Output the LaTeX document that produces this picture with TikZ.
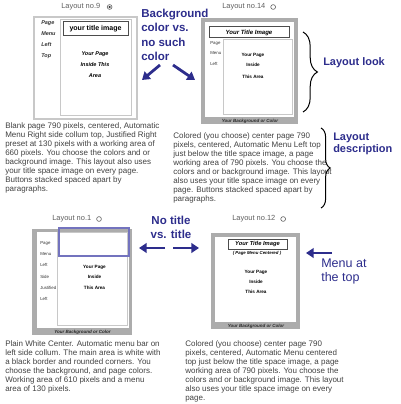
\documentclass[tikz,border=0pt]{standalone}
\usepackage{fontspec}
\setmainfont{Liberation Sans}
\usetikzlibrary{arrows.meta,positioning,decorations.pathreplacing}
\definecolor{navyblue}{RGB}{45,45,140}
\definecolor{markblue}{RGB}{115,115,190}
\definecolor{framegray}{RGB}{172,172,172}
\definecolor{linegray}{RGB}{200,200,200}
\definecolor{textgray}{RGB}{65,65,65}
\definecolor{labelgray}{RGB}{95,95,95}
\begin{document}
\begin{tikzpicture}[x=0.25mm, y=-0.25mm, % 1个单位 = 1像素, y轴向下
    every node/.style={inner sep=0pt}, % 所有节点不留边距
    desc/.style={anchor=north west, align=left, text=textgray, font=\fontsize{5.7}{6.4}\selectfont},
    layoutlabel/.style={anchor=west, text=labelgray, font=\fontsize{5.3}{6}\selectfont},
    radio/.style={circle, draw=labelgray, line width=0.15mm, minimum size=1.2mm},
    note/.style={text=navyblue, font=\fontsize{8.2}{10.2}\selectfont\bfseries},
    menuitem/.style={anchor=west, text=black!80, font=\fontsize{3.1}{3.5}\selectfont},
    pagetext/.style={font=\fontsize{3.3}{4}\selectfont\bfseries},
    bgtext/.style={text=black!85, font=\fontsize{3.2}{4}\selectfont\bfseries\itshape},
    thinline/.style={draw=linegray, line width=0.25mm},
    titlebox/.style={draw=black!70, line width=0.25mm},
    bluearrow/.style={navyblue, line width=0.7mm, -{Triangle[length=1.9mm,width=2.4mm]}},
    bracedeco/.style={decorate, line width=0.25mm},
  ]
  \useasboundingbox (0,0) rectangle (400,404); % 画布大小 400x404

  % ---------- Layout no.9 (左上) ----------
  \node[layoutlabel] (lab9) at (61,7) {Layout no.9};
  \node[radio, right=1.6mm of lab9] (radio9) {};
  \fill[labelgray!60!black] (radio9) circle (0.3mm); % 已选中

  \draw[thinline, line width=0.35mm] (34,17) rectangle (137,119);
  \draw[thinline] (60,20) rectangle (131,116);
  \draw[titlebox] (63,22) rectangle (128,36);
  \node[font=\fontsize{5}{6}\selectfont\bfseries] (title9) at (95.5,29) {your title image};

  \node[menuitem, font=\fontsize{3.9}{4.5}\selectfont\bfseries\itshape] (m9a) at (41,23) {Page};
  \node[menuitem, font=\fontsize{3.9}{4.5}\selectfont\bfseries\itshape] (m9b) at (41,34) {Menu};
  \node[menuitem, font=\fontsize{3.9}{4.5}\selectfont\bfseries\itshape] (m9c) at (41,45) {Left};
  \node[menuitem, font=\fontsize{3.9}{4.5}\selectfont\bfseries\itshape] (m9d) at (41,56) {Top};

  \node[pagetext, font=\fontsize{3.9}{4.5}\selectfont\bfseries\itshape] (p9a) at (95,54) {Your Page};
  \node[pagetext, font=\fontsize{3.9}{4.5}\selectfont\bfseries\itshape] (p9b) at (95,65) {Inside This};
  \node[pagetext, font=\fontsize{3.9}{4.5}\selectfont\bfseries\itshape] (p9c) at (95,76) {Area};

  \node[desc] (desc9) at (5,122) {Blank page 790 pixels, centered, Automatic\\
    Menu Right side collum top, Justified Right\\
    preset at 130 pixels with a working area of\\
    660 pixels. You choose the colors and or\\
    background image. This layout also uses\\
    your title space image on every page.\\
    Buttons stacked spaced apart by\\
    paragraphs.};

  % ---------- Layout no.14 (右上) ----------
  \node[layoutlabel] (lab14) at (222,7) {Layout no.14};
  \node[radio, right=1.2mm of lab14] (radio14) {};

  \fill[framegray] (201,18) rectangle (298,124);
  \fill[white] (205,22) rectangle (294,117);
  \draw[titlebox] (209,27) rectangle (289,38);
  \draw[thinline] (223,40) rectangle (292,115);
  \node[font=\fontsize{4.3}{5}\selectfont\bfseries\itshape] (title14) at (249,32.5) {Your Title Image};

  \node[menuitem] (m14a) at (210,43) {Page};
  \node[menuitem] (m14b) at (210,53) {Menu};
  \node[menuitem] (m14c) at (210,64) {Left};

  \node[pagetext] (p14a) at (253,55) {Your Page};
  \node[pagetext] (p14b) at (253,65) {Inside};
  \node[pagetext] (p14c) at (253,77) {This Area};
  \node[bgtext] (bg14) at (250,121) {Your Background or Color};

  \node[desc] (desc14) at (173,132) {Colored (you choose) center page 790\\
    pixels, centered, Automatic Menu Left top\\
    just below the title space image, a page\\
    working area of 790 pixels. You choose the\\
    colors and or background image. This layout\\
    also uses your title space image on every\\
    page. Buttons stacked spaced apart by\\
    paragraphs.};

  % ---------- Layout no.1 (左下) ----------
  \node[layoutlabel] (lab1) at (52,219) {Layout no.1};
  \node[radio, right=1.2mm of lab1] (radio1) {};

  \fill[framegray] (32,229) rectangle (132,335);
  \fill[white] (37,232) rectangle (129,328);
  \draw[thinline] (57,232) rectangle (127,325);
  \draw[markblue, line width=0.4mm] (59,228) rectangle (129,256); % 标题区域

  \node[menuitem] (m1a) at (40,243) {Page};
  \node[menuitem] (m1b) at (40,254) {Menu};
  \node[menuitem] (m1c) at (40,265) {Left};
  \node[menuitem] (m1d) at (40,277) {Side};
  \node[menuitem] (m1e) at (40,288) {Justified};
  \node[menuitem] (m1f) at (40,299) {Left};

  \node[pagetext] (p1a) at (94.5,267) {Your Page};
  \node[pagetext] (p1b) at (94.5,277) {Inside};
  \node[pagetext] (p1c) at (94.5,288) {This Area};
  \node[bgtext] (bg1) at (82.5,332) {Your Background or Color};

  \node[desc] (desc1) at (5,340) {Plain White Center. Automatic menu bar on\\
    left side collum. The main area is white with\\
    a black border and rounded corners. You\\
    choose the background, and page colors.\\
    Working area of 610 pixels and a menu\\
    area of 130 pixels.};

  % ---------- Layout no.12 (右下) ----------
  \node[layoutlabel] (lab12) at (232,219) {Layout no.12};
  \node[radio, right=1.2mm of lab12] (radio12) {};

  \fill[framegray] (211,233) rectangle (300,329);
  \fill[white] (215,237) rectangle (296,322);
  \draw[titlebox] (228,239) rectangle (287,249);
  \node[font=\fontsize{4.1}{5}\selectfont\bfseries\itshape] (title12) at (257.5,244) {Your Title Image};
  \node[font=\fontsize{3.1}{4}\selectfont\bfseries\itshape] (menu12) at (257,253) {( Page Menu Centered )};

  \node[pagetext] (p12a) at (256,272) {Your Page};
  \node[pagetext] (p12b) at (256,282) {Inside};
  \node[pagetext] (p12c) at (256,292) {This Area};
  \node[bgtext] (bg12) at (256,326) {Your Background or Color};

  \node[desc] (desc12) at (185,340) {Colored (you choose) center page 790\\
    pixels, centered, Automatic Menu centered\\
    top just below the title space image, a page\\
    working area of 790 pixels. You choose the\\
    colors and or background image. This layout\\
    also uses your title space image on every\\
    page.};

  % ---------- 蓝色说明文字与箭头 ----------
  \node[note, anchor=north west, align=left] (bgnote) at (141,8.7) {Background\\color vs.\\no such\\color};
  \coordinate (bgA0) at (160,65);  % 左箭头起点
  \coordinate (bgA1) at (142,80);
  \coordinate (bgB0) at (173,65);  % 右箭头起点
  \coordinate (bgB1) at (195,80);
  \draw[bluearrow] (bgA0) -- (bgA1);
  \draw[bluearrow] (bgB0) -- (bgB1);

  \node[note, align=center, font=\fontsize{8.2}{10}\selectfont\bfseries] (titlenote) at (171,227) {No title\\vs. title};
  \coordinate (ttA0) at (165,248);
  \coordinate (ttA1) at (139,248);
  \coordinate (ttB0) at (173,248);
  \coordinate (ttB1) at (199,248);
  \draw[bluearrow] (ttA0) -- (ttA1);
  \draw[bluearrow] (ttB0) -- (ttB1);

  \node[note, anchor=north west, align=left, font=\fontsize{8.9}{10}\selectfont] (menunote) at (321,259) {Menu at\\the top};
  \coordinate (mnA0) at (332,253);
  \coordinate (mnA1) at (306,253);
  \draw[bluearrow] (mnA0) -- (mnA1);

  % ---------- 大括号 ----------
  \coordinate (lookTop) at (303,32);
  \coordinate (lookBot) at (303,112);
  \draw[bracedeco, decoration={brace, amplitude=3.6mm}] (lookTop) -- (lookBot);
  \node[note, anchor=west, font=\fontsize{7.8}{9}\selectfont\bfseries] (looknote) at (323,63) {Layout look};

  \coordinate (descTop) at (321,128);
  \coordinate (descBot) at (321,208);
  \draw[bracedeco, decoration={brace, amplitude=2.3mm}] (descTop) -- (descBot);
  \node[note, anchor=north west, align=left, font=\fontsize{7.8}{8.5}\selectfont\bfseries] (descnote) at (333,133) {Layout\\description};
\end{tikzpicture}
\end{document}
